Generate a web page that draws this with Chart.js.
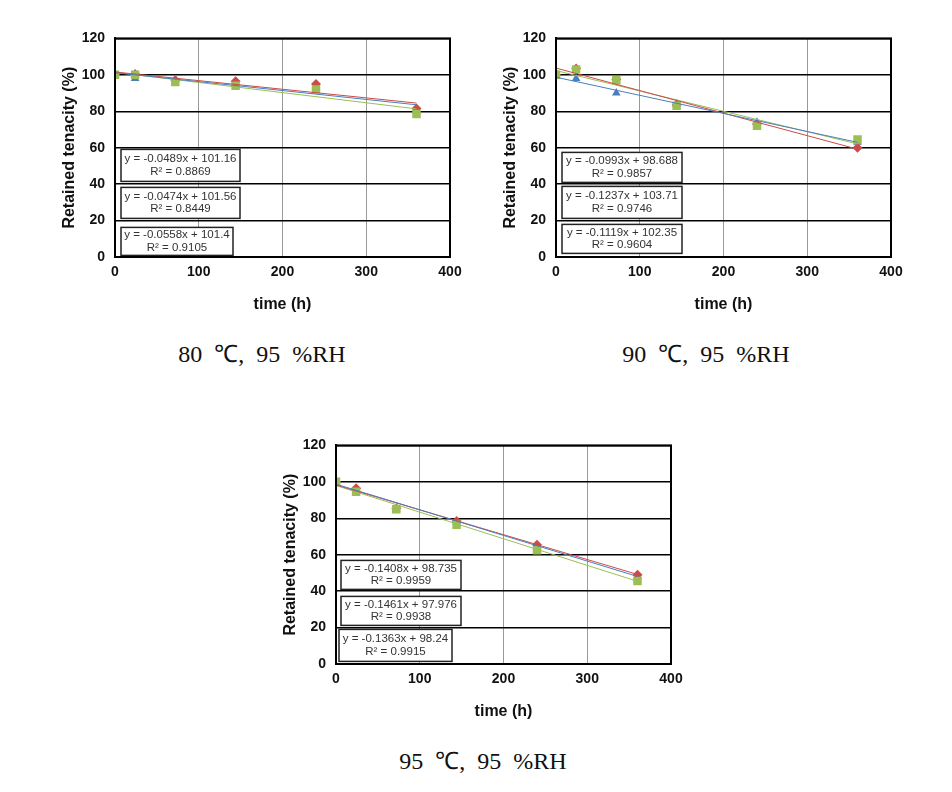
<!DOCTYPE html>
<html>
<head>
<meta charset="utf-8">
<script src="https://cdn.jsdelivr.net/npm/chart.js@4.4.0/dist/chart.umd.min.js"></script>
<style>
body { margin: 0; background: #fff; width: 952px; height: 792px; position: relative; overflow: hidden; }
canvas { position: absolute; }
.cap { position: absolute; width: 300px; text-align: center; font-family: "Liberation Serif", "Times New Roman", serif; font-size: 24px; line-height: 28px; color: #111; white-space: pre; }
</style>
</head>
<body>
<canvas id="c80" width="415" height="297" style="left:55px; top:20px;"></canvas>
<canvas id="c90" width="415" height="297" style="left:496px; top:20px;"></canvas>
<canvas id="c95" width="415" height="297" style="left:276px; top:427px;"></canvas>
<div class="cap" style="left:112px; top:340px;">80  ℃,  95  %RH</div>
<div class="cap" style="left:556px; top:340px;">90  ℃,  95  %RH</div>
<div class="cap" style="left:333px; top:747px;">95  ℃,  95  %RH</div>
<script>
// time points (h)
const hours = [0, 24, 72, 144, 240, 360];
const trendHours = [0, 360];

// 80 C
const blue80 = [100, 98, 97.5, 95, 93, 80];
const red80 = [100, 100.5, 97, 96.5, 95, 81.5];
const green80 = [100, 100, 96, 94, 92, 78.5];
const trendBlue80 = [101.16, 83.56];
const trendRed80 = [101.56, 84.5];
const trendGreen80 = [101.4, 81.31];
const eq80 = [['y = -0.0489x + 101.16', 'R² = 0.8869'], ['y = -0.0474x + 101.56', 'R² = 0.8449'], ['y = -0.0558x + 101.4', 'R² = 0.9105']];

// 90 C
const blue90 = [100, 98, 90, 84, 74, 63];
const red90 = [100, 103.5, 97.5, 83.5, 73, 60];
const green90 = [100, 103, 97, 83, 72, 64.5];
const trendBlue90 = [98.688, 62.94];
const trendRed90 = [103.71, 59.18];
const trendGreen90 = [102.35, 62.07];
const eq90 = [['y = -0.0993x + 98.688', 'R² = 0.9857'], ['y = -0.1237x + 103.71', 'R² = 0.9746'], ['y = -0.1119x + 102.35', 'R² = 0.9604']];

// 95 C
const blue95 = [100, 95, 85, 78, 64, 48];
const red95 = [100, 96.5, 85.5, 78.5, 65.5, 49];
const green95 = [100, 94.5, 85, 76.5, 62.5, 45.5];
const trendBlue95 = [98.735, 48.05];
const trendRed95 = [98.24, 49.17];
const trendGreen95 = [97.976, 45.38];
const eq95 = [['y = -0.1408x + 98.735', 'R² = 0.9959'], ['y = -0.1461x + 97.976', 'R² = 0.9938'], ['y = -0.1363x + 98.24', 'R² = 0.9915']];

const BLUE = '#4a7ebf', RED = '#cc4a47', GREEN = '#9bbf55';

function pts(ys, xs) {
    return ys.map((y, i) => ({ x: xs[i], y: y }));
}

// equation boxes + plot frame
const eqBoxes = {
    id: 'eqBoxes',
    afterDraw(chart, args, opts) {
        const ctx = chart.ctx, a = chart.chartArea;
        ctx.save();
        opts.boxes.forEach((b, i) => {
            const x = a.left + b.x, y = a.top + b.y;
            ctx.fillStyle = '#fff';
            ctx.fillRect(x, y, b.w, b.h);
            ctx.strokeStyle = '#222';
            ctx.lineWidth = 1.5;
            ctx.strokeRect(x, y, b.w, b.h);
            ctx.fillStyle = '#333';
            ctx.font = '11.5px "Liberation Sans", Arial, sans-serif';
            ctx.textAlign = 'center';
            ctx.textBaseline = 'middle';
            opts.lines[i].forEach((t, j) => ctx.fillText(t, x + b.w / 2, y + b.h / 2 + (j - 0.5) * 12.5));
        });
        ctx.strokeStyle = '#000';
        ctx.lineWidth = 2;
        ctx.strokeRect(a.left, a.top, a.right - a.left, a.bottom - a.top);
        ctx.restore();
    }
};

function makeChart(id, blue, red, green, tb, tr, tg, eqs, boxes) {
    const markers = (label, data, color, style, r, order) => ({
        label: label, data: pts(data, hours), showLine: false,
        pointStyle: style, pointRadius: r, pointBackgroundColor: color, pointBorderColor: color,
        pointBorderWidth: 0, order: order
    });
    const trend = (data, color) => ({
        data: pts(data, trendHours), showLine: true, borderColor: color, borderWidth: 1,
        pointRadius: 0, order: -1
    });
    new Chart(document.getElementById(id), {
        type: 'scatter',
        data: {
            datasets: [
                markers('blue', blue, BLUE, 'triangle', 5, 2),
                markers('red', red, RED, 'rectRot', 5, 1),
                markers('green', green, GREEN, 'rect', 6, 0),
                trend(tb, BLUE), trend(tr, RED), trend(tg, GREEN)
            ]
        },
        options: {
            responsive: false,
            animation: false,
            layout: { padding: { left: 0, top: 10, right: 20, bottom: 0 } },
            plugins: {
                legend: { display: false },
                tooltip: { enabled: false },
                eqBoxes: { lines: eqs, boxes: boxes }
            },
            scales: {
                x: {
                    min: 0, max: 400,
                    ticks: { stepSize: 100, padding: 7, color: '#111', font: { family: 'Liberation Sans', size: 14, weight: 'bold' } },
                    grid: { color: '#9a9a9a', lineWidth: 1, drawTicks: false },
                    border: { color: '#000', width: 2 },
                    title: { display: true, text: 'time (h)', color: '#111', padding: 3, font: { family: 'Liberation Sans', size: 16, weight: 'bold' } },
                    afterFit: s => { s.height = 60; }
                },
                y: {
                    min: 0, max: 120,
                    ticks: { stepSize: 20, padding: 10, color: '#111', font: { family: 'Liberation Sans', size: 14, weight: 'bold' } },
                    grid: { color: '#000', lineWidth: 1.5, drawTicks: false },
                    border: { color: '#000', width: 2 },
                    title: { display: true, text: 'Retained tenacity (%)', color: '#111', padding: 5, font: { family: 'Liberation Sans', size: 16, weight: 'bold' } },
                    afterFit: s => { s.width = 60; }
                }
            }
        },
        plugins: [eqBoxes]
    });
}

makeChart('c80', blue80, red80, green80, trendBlue80, trendRed80, trendGreen80, eq80, [
    { x: 6, y: 111, w: 119, h: 32 }, { x: 6, y: 149, w: 119, h: 31 }, { x: 6, y: 189, w: 112, h: 28 }
]);
makeChart('c90', blue90, red90, green90, trendBlue90, trendRed90, trendGreen90, eq90, [
    { x: 6, y: 114, w: 120, h: 30 }, { x: 6, y: 148, w: 120, h: 32 }, { x: 6, y: 186, w: 120, h: 29 }
]);
makeChart('c95', blue95, red95, green95, trendBlue95, trendRed95, trendGreen95, eq95, [
    { x: 5, y: 115, w: 120, h: 29 }, { x: 5, y: 151, w: 120, h: 29 }, { x: 3, y: 184, w: 113, h: 32 }
]);
</script>
</body>
</html>
